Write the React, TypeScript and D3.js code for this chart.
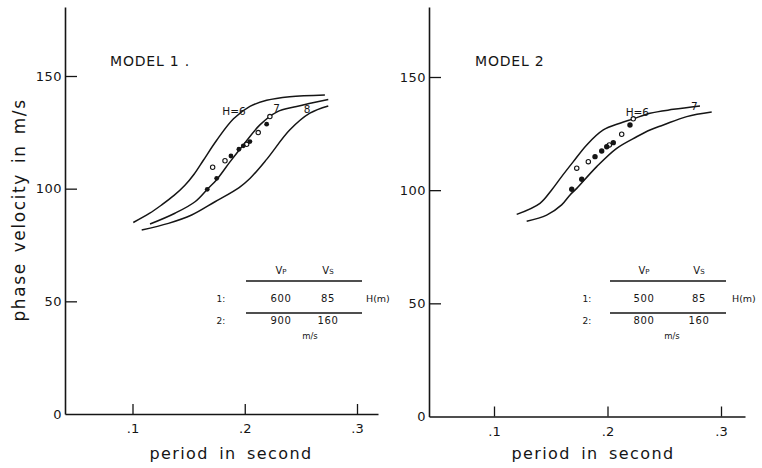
import { useEffect, useRef } from 'react'
import * as d3 from 'd3'

type Pt = [number, number]

// period (s) vs phase velocity (m/s)
const model1H6: Pt[] = [
  [0.1007, 85], [0.115, 89], [0.126, 92.8], [0.137, 97], [0.1467, 101.5],
  [0.155, 106.5], [0.163, 112.5], [0.175, 121.5], [0.19, 131], [0.2046, 136.5],
  [0.2195, 139.2], [0.24, 140.8], [0.2714, 141.6],
]
const model1H7: Pt[] = [
  [0.1156, 84.3], [0.1378, 89.1], [0.1557, 94.2], [0.1675, 100.2], [0.175, 104],
  [0.187, 112], [0.1987, 119.4], [0.2135, 128.3], [0.2284, 134], [0.2462, 136.5],
  [0.2744, 139.6],
]
const model1H8: Pt[] = [
  [0.1082, 81.7], [0.132, 84.6], [0.1527, 88.3], [0.1735, 94.2], [0.195, 100.5],
  [0.2046, 104.5], [0.2195, 113], [0.24, 126], [0.258, 133.5], [0.2744, 136.7],
]
const model1Open: Pt[] = [
  [0.1714, 109.5], [0.1824, 112.4], [0.2017, 119.7], [0.212, 124.9], [0.2224, 132],
]
const model1Filled: Pt[] = [
  [0.1666, 99.7], [0.175, 104.6], [0.1877, 114.5], [0.1948, 117.5], [0.1987, 119],
  [0.2046, 120.9], [0.2195, 128.6],
]

const model2Upper: Pt[] = [
  [0.12, 89.3], [0.1405, 94.2], [0.1508, 100.1], [0.1596, 106], [0.1699, 112.6],
  [0.1817, 120], [0.1963, 126.6], [0.211, 129.6], [0.2227, 131.5], [0.2374, 134],
  [0.258, 135.7], [0.2815, 137.2],
]
const model2Lower: Pt[] = [
  [0.1288, 86.3], [0.1464, 89], [0.1596, 93.5], [0.167, 97.9], [0.1729, 100.8],
  [0.1905, 110.4], [0.2081, 118.5], [0.2257, 123.6], [0.2374, 126.6], [0.2492, 128.8],
  [0.2698, 132.5], [0.2918, 134.5],
]
const model2Open: Pt[] = [
  [0.1729, 109.7], [0.1831, 112.6], [0.2016, 120], [0.2125, 124.7], [0.2227, 131.5],
]
const model2Filled: Pt[] = [
  [0.1685, 100.4], [0.1773, 104.8], [0.189, 114.8], [0.1949, 117.3], [0.1993, 119.2],
  [0.2051, 121], [0.2198, 128.8],
]

const xTicks = [0.1, 0.2, 0.3]
const yTicks = [0, 50, 100, 150]
const layerNames = ['1:', '2:']
const model1Layers = [['600', '85'], ['900', '160']]
const model2Layers = [['500', '85'], ['800', '160']]

const FONT = '"DejaVu Sans", Verdana, sans-serif'
const INK = '#151515'

interface PanelSpec {
  left: number
  right: number
  px1: number
  px3: number
  y0: number
  y150: number
  yTop: number
  title: string
  titleX: number
  xTitleX: number
  curves: Pt[][]
  open: Pt[]
  filled: Pt[]
  dotR: number
  labels: { text: string; at: Pt }[]
  layers: string[][]
  table: { x0: number; x1: number; cols: number[]; nameX: number; hX: number; unitX: number }
}

const panels: PanelSpec[] = [
  {
    left: 65, right: 378, px1: 132.5, px3: 357, y0: 414, y150: 76, yTop: 7,
    title: 'MODEL 1 .', titleX: 110, xTitleX: 231,
    curves: [model1H6, model1H7, model1H8],
    open: model1Open, filled: model1Filled, dotR: 2.4,
    labels: [
      { text: 'H=6', at: [0.18, 132.5] },
      { text: '7', at: [0.2255, 134] },
      { text: '8', at: [0.2525, 133.4] },
    ],
    layers: model1Layers,
    table: { x0: 246, x1: 362, cols: [281, 328], nameX: 221, hX: 366, unitX: 310 },
  },
  {
    left: 429, right: 745, px1: 494, px3: 721, y0: 416.5, y150: 77, yTop: 7,
    title: 'MODEL 2', titleX: 475, xTitleX: 593,
    curves: [model2Upper, model2Lower],
    open: model2Open, filled: model2Filled, dotR: 2.7,
    labels: [
      { text: 'H=6', at: [0.216, 132.8] },
      { text: '7', at: [0.2735, 135.2] },
    ],
    layers: model2Layers,
    table: { x0: 610, x1: 726, cols: [644, 699], nameX: 587, hX: 732, unitX: 672 },
  },
]

type Sel = d3.Selection<SVGSVGElement, unknown, null, undefined>

function drawPanel(svg: Sel, p: PanelSpec) {
  const g = svg.append('g')

  const x = d3.scaleLinear().domain([0.1, 0.3]).range([p.px1, p.px3])
  x.domain([x.invert(p.left), x.invert(p.right)]).range([p.left, p.right])
  const y = d3.scaleLinear().domain([0, 150]).range([p.y0, p.y150])
  y.domain([0, y.invert(p.yTop)]).range([p.y0, p.yTop])

  // x axis, ticks pointing inward
  g.append('g')
    .attr('transform', `translate(0,${p.y0})`)
    .call(
      d3.axisBottom(x)
        .tickValues(xTicks)
        .tickSize(-10)
        .tickSizeOuter(0)
        .tickPadding(10)
        .tickFormat((d) => '.' + Math.round(+d * 10))
    )
    .call((a) => {
      a.select('.domain').attr('stroke', INK).attr('stroke-width', 1.6)
      a.selectAll('.tick line').attr('stroke', INK).attr('stroke-width', 1.3)
      a.selectAll('.tick text')
        .attr('fill', INK)
        .style('font-family', FONT)
        .style('font-size', '13px')
    })

  // y axis
  g.append('g')
    .attr('transform', `translate(${p.left},0)`)
    .call(
      d3.axisLeft(y)
        .tickValues(yTicks)
        .tickSize(-12)
        .tickSizeOuter(0)
        .tickPadding(3)
        .tickFormat((d) => `${d}`)
    )
    .call((a) => {
      a.select('.domain').attr('stroke', INK).attr('stroke-width', 1.6)
      a.selectAll('.tick line').attr('stroke', INK).attr('stroke-width', 1.3)
      a.selectAll('.tick')
        .filter((d) => d === 0)
        .select('line')
        .remove()
      a.selectAll('.tick text')
        .attr('fill', INK)
        .style('font-family', FONT)
        .style('font-size', '13px')
        .style('letter-spacing', '0.5px')
    })

  // curves
  const line = d3
    .line<Pt>()
    .x((d) => x(d[0]))
    .y((d) => y(d[1]))
    .curve(d3.curveCatmullRom.alpha(0.5))

  g.selectAll('.curve')
    .data(p.curves)
    .enter()
    .append('path')
    .attr('class', 'curve')
    .attr('fill', 'none')
    .attr('stroke', INK)
    .attr('stroke-width', 1.5)
    .attr('d', line)

  // observed points
  g.selectAll('.open')
    .data(p.open)
    .enter()
    .append('circle')
    .attr('class', 'open')
    .attr('cx', (d) => x(d[0]))
    .attr('cy', (d) => y(d[1]))
    .attr('r', 2.2)
    .attr('fill', '#fff')
    .attr('stroke', INK)
    .attr('stroke-width', 1.1)

  g.selectAll('.filled')
    .data(p.filled)
    .enter()
    .append('circle')
    .attr('class', 'filled')
    .attr('cx', (d) => x(d[0]))
    .attr('cy', (d) => y(d[1]))
    .attr('r', p.dotR)
    .attr('fill', INK)

  // curve labels
  g.selectAll('.lbl')
    .data(p.labels)
    .enter()
    .append('text')
    .attr('class', 'lbl')
    .attr('x', (d) => x(d.at[0]))
    .attr('y', (d) => y(d.at[1]))
    .attr('fill', INK)
    .style('font-family', FONT)
    .style('font-size', '10.5px')
    .text((d) => d.text)

  // model title
  g.append('text')
    .attr('x', p.titleX)
    .attr('y', 66)
    .attr('fill', INK)
    .style('font-family', FONT)
    .style('font-size', '14px')
    .style('letter-spacing', '0.8px')
    .text(p.title)

  // x title
  g.append('text')
    .attr('x', p.xTitleX)
    .attr('y', 459)
    .attr('text-anchor', 'middle')
    .attr('fill', INK)
    .style('font-family', FONT)
    .style('font-size', '16px')
    .style('letter-spacing', '1.4px')
    .style('word-spacing', '4px')
    .text('period in second')

  // layer table
  const t = p.table
  const tg = g.append('g').attr('fill', INK).style('font-family', FONT)
  const head = tg
    .selectAll('.head')
    .data(['P', 'S'])
    .enter()
    .append('text')
    .attr('class', 'head')
    .attr('x', (_, i) => t.cols[i])
    .attr('y', 274)
    .attr('text-anchor', 'middle')
    .style('font-size', '10px')
  head.append('tspan').text('V')
  head.append('tspan').style('font-size', '7px').text((d) => d)

  tg.selectAll('.rule')
    .data([281, 313])
    .enter()
    .append('line')
    .attr('class', 'rule')
    .attr('x1', t.x0)
    .attr('x2', t.x1)
    .attr('y1', (d) => d)
    .attr('y2', (d) => d)
    .attr('stroke', INK)
    .attr('stroke-width', 1.5)

  const rowY = [302, 324]
  tg.selectAll('.name')
    .data(layerNames)
    .enter()
    .append('text')
    .attr('class', 'name')
    .attr('x', t.nameX)
    .attr('y', (_, i) => rowY[i])
    .attr('text-anchor', 'middle')
    .style('font-size', '9px')
    .text((d) => d)

  p.layers.forEach((row, i) => {
    tg.selectAll(`.row${i}`)
      .data(row)
      .enter()
      .append('text')
      .attr('x', (_, j) => t.cols[j])
      .attr('y', rowY[i])
      .attr('text-anchor', 'middle')
      .style('font-size', '10px')
      .style('letter-spacing', '0.6px')
      .text((d) => d)
  })

  tg.append('text')
    .attr('x', t.hX)
    .attr('y', rowY[0])
    .style('font-size', '9.5px')
    .text('H(m)')

  tg.append('text')
    .attr('x', t.unitX)
    .attr('y', 339)
    .attr('text-anchor', 'middle')
    .style('font-size', '8.5px')
    .text('m/s')
}

export default function App() {
  const svgRef = useRef<SVGSVGElement>(null)

  useEffect(() => {
    const svg = d3.select(svgRef.current as SVGSVGElement) as Sel
    svg.selectAll('*').remove()

    panels.forEach((p) => drawPanel(svg, p))

    // shared y title
    svg
      .append('text')
      .attr('transform', 'translate(25,210) rotate(-90)')
      .attr('text-anchor', 'middle')
      .attr('fill', INK)
      .style('font-family', FONT)
      .style('font-size', '17px')
      .style('letter-spacing', '1.6px')
      .style('word-spacing', '3px')
      .text('phase velocity in m/s')
  }, [])

  return (
    <div style={{ position: 'absolute', left: 0, top: 0 }}>
      <svg ref={svgRef} width={762} height={468} style={{ display: 'block', background: '#fff' }} />
    </div>
  )
}
